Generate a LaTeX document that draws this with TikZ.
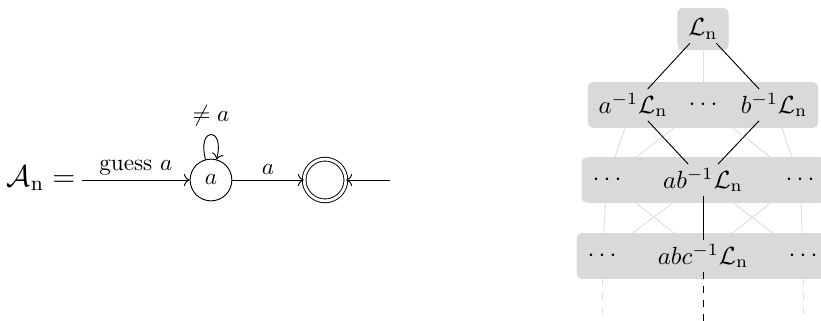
\documentclass[tikz,border=0pt]{standalone}
\usepackage{fix-cm}
\usetikzlibrary{arrows.meta, automata, fit, backgrounds}
\pgfdeclarelayer{back}
\pgfsetlayers{back,background,main}

\tikzset{
  every state/.style={minimum size=18pt, inner sep=0pt},
  accepting/.style={double, double distance=1.2pt},
  lnode/.style={inner sep=1.5pt, font=\fontsize{10.7}{13}\selectfont},
  lrow/.style={fill=black!15, rounded corners=2.2pt, inner sep=3pt},
  faint/.style={draw=black!13, line width=0.4pt},
}

\begin{document}
\begin{tikzpicture}[x=1in,y=1in,>={To}]
\useasboundingbox (0,0) rectangle (4.9000,1.9158);
% automaton
\node (An) at (0.2447,0.8535) {\fontsize{13}{15}\selectfont $\mathcal{A}_{\mathrm{n}} =$};
\coordinate (init) at (0.4894,0.8415);
\node[state] (qa) at (1.2593,0.8415) {$a$};
\node[state, accepting] (qf) at (1.9397,0.8415) {};
\coordinate (fin) at (2.3276,0.8415);
\draw[->] (init) -- node[above, inner sep=2pt] {guess $a$} (qa);
\draw[->] (qa) to[loop above] node[above] {$\neq a$} (qa);
\draw[->] (qa) -- node[above, inner sep=2pt] {$a$} (qf);
\draw[->] (fin) -- (qf);
% lattice of quotients
\node[lnode] (L) at (4.1957,1.7427) {$\mathcal{L}_{\mathrm{n}}$};
\node[lnode] (aL) at (3.7779,1.2892) {$a^{-1}\mathcal{L}_{\mathrm{n}}$};
\node[lnode] (dL) at (4.1957,1.2892) {$\cdots$};
\node[lnode] (bL) at (4.6195,1.2892) {$b^{-1}\mathcal{L}_{\mathrm{n}}$};
\node[lnode] (lA) at (3.6228,0.8415) {$\cdots$};
\node[lnode] (abL) at (4.1957,0.8415) {$ab^{-1}\mathcal{L}_{\mathrm{n}}$};
\node[lnode] (rA) at (4.7746,0.8415) {$\cdots$};
\node[lnode] (lB) at (3.5929,0.3879) {$\cdots$};
\node[lnode] (abcL) at (4.1957,0.3879) {$abc^{-1}\mathcal{L}_{\mathrm{n}}$};
\node[lnode] (rB) at (4.7925,0.3879) {$\cdots$};
\coordinate (lE) at (3.5929,0);
\coordinate (mE) at (4.1957,0);
\coordinate (rE) at (4.7925,0);
\begin{scope}[on background layer]
\node[lrow, fit=(L)] (row0) {};
\node[lrow, fit=(aL)(dL)(bL)] (row1) {};
\node[lrow, fit=(lA)(abL)(rA)] (row2) {};
\node[lrow, fit=(lB)(abcL)(rB)] (row3) {};
\end{scope}
\begin{pgfonlayer}{back}
\draw[faint] (L) -- (dL);
\draw[faint] (aL) -- (lA) (dL) -- (lA) (dL) -- (rA) (bL) -- (rA);
\draw[faint] (lA) -- (lB) (lA) -- (abcL) (abL) -- (lB) (abL) -- (rB) (rA) -- (abcL) (rA) -- (rB);
\draw[faint, dashed] (lB) -- (lE) (rB) -- (rE);
\end{pgfonlayer}
\draw (L) -- (aL);
\draw (L) -- (bL);
\draw (aL) -- (abL);
\draw (bL) -- (abL);
\draw (abL) -- (abcL);
\draw[dashed] (abcL) -- (mE);
\end{tikzpicture}
\end{document}
